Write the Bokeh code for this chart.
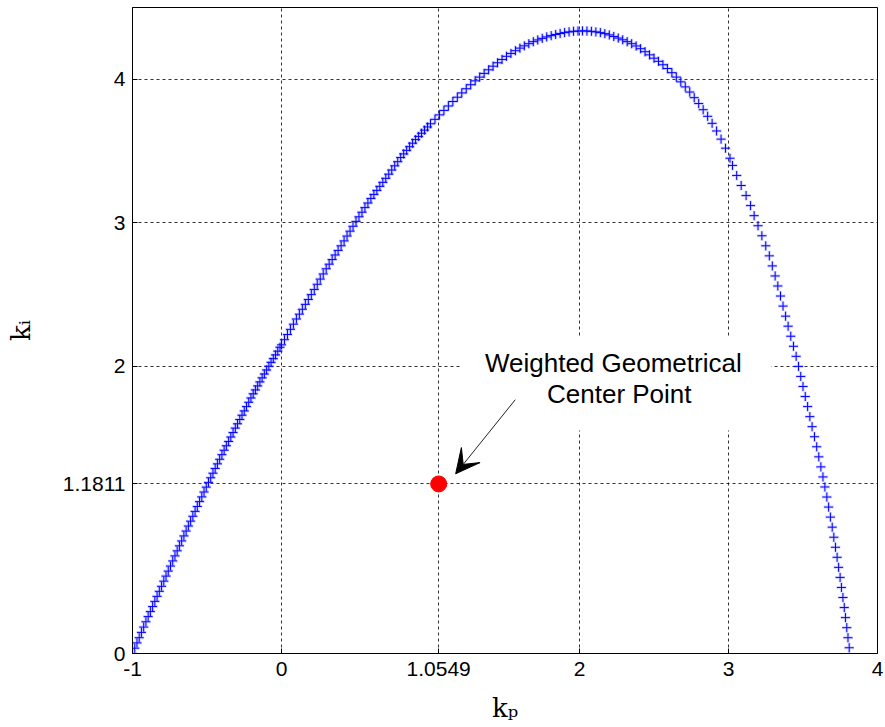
from bokeh.plotting import figure
from bokeh.models import Arrow, VeeHead, BoxAnnotation, FixedTicker, Range1d, Label
from bokeh.embed import file_html
from bokeh.resources import INLINE

# ---- data ----
# rising branch of the stability boundary locus (k_p, k_i)
kp_rise = [-1.000, -0.985, -0.970, -0.955, -0.940, -0.925, -0.910, -0.895, -0.880, -0.865,
           -0.850, -0.835, -0.820, -0.805, -0.790, -0.775, -0.760, -0.745, -0.730, -0.715,
           -0.700, -0.685, -0.670, -0.655, -0.640, -0.625, -0.610, -0.595, -0.580, -0.565,
           -0.550, -0.535, -0.520, -0.505, -0.490, -0.475, -0.460, -0.445, -0.430, -0.415,
           -0.400, -0.385, -0.370, -0.355, -0.340, -0.325, -0.310, -0.295, -0.280, -0.265,
           -0.250, -0.235, -0.220, -0.205, -0.190, -0.175, -0.160, -0.145, -0.130, -0.115,
           -0.100, -0.085, -0.070, -0.055, -0.040, -0.025, -0.010,
           0.00, 0.02, 0.04, 0.06, 0.08, 0.10, 0.12, 0.14, 0.16, 0.18, 0.20, 0.22, 0.24,
           0.26, 0.28, 0.30, 0.32, 0.34, 0.36, 0.38, 0.40, 0.42, 0.44, 0.46, 0.48, 0.50,
           0.52, 0.54, 0.56, 0.58, 0.60, 0.62, 0.64, 0.66, 0.68, 0.70, 0.72, 0.74, 0.76,
           0.78, 0.80, 0.82, 0.84, 0.86, 0.88, 0.90, 0.92, 0.94, 0.96, 0.98, 1.00,
           1.03, 1.06, 1.09, 1.12, 1.15, 1.18, 1.21, 1.24, 1.27, 1.30, 1.33, 1.36, 1.39,
           1.42, 1.45, 1.48, 1.51, 1.54, 1.57, 1.60, 1.63, 1.66, 1.69, 1.72, 1.75, 1.78,
           1.81, 1.84, 1.87, 1.90, 1.93, 1.96, 1.99, 2.02]
ki_rise = [0.000, 0.037, 0.074, 0.110, 0.147, 0.184, 0.221, 0.257, 0.292, 0.327,
           0.363, 0.398, 0.433, 0.468, 0.504, 0.539, 0.574, 0.609, 0.645, 0.680,
           0.715, 0.750, 0.784, 0.819, 0.853, 0.888, 0.922, 0.956, 0.990, 1.024,
           1.058, 1.091, 1.125, 1.159, 1.192, 1.224, 1.256, 1.289, 1.321, 1.353,
           1.385, 1.416, 1.447, 1.477, 1.508, 1.539, 1.570, 1.600, 1.630, 1.660,
           1.690, 1.720, 1.750, 1.780, 1.809, 1.836, 1.864, 1.892, 1.920, 1.947,
           1.975, 2.001, 2.028, 2.054, 2.080, 2.106, 2.133,
           2.150, 2.186, 2.222, 2.258, 2.294, 2.330, 2.364, 2.398, 2.432, 2.466, 2.500,
           2.536, 2.572, 2.608, 2.644, 2.680, 2.712, 2.744, 2.776, 2.808, 2.840, 2.874,
           2.908, 2.942, 2.976, 3.010, 3.042, 3.074, 3.106, 3.138, 3.170, 3.198, 3.226,
           3.254, 3.282, 3.310, 3.339, 3.368, 3.397, 3.426, 3.455, 3.480, 3.505, 3.530,
           3.555, 3.580, 3.602, 3.624, 3.646, 3.668, 3.690,
           3.721, 3.752, 3.783, 3.814, 3.845, 3.875, 3.905, 3.934, 3.962, 3.989, 4.015,
           4.041, 4.066, 4.091, 4.115, 4.138, 4.160, 4.180, 4.199, 4.217, 4.233, 4.248,
           4.262, 4.274, 4.285, 4.295, 4.304, 4.312, 4.319, 4.325, 4.330, 4.334, 4.336,
           4.337]

# falling branch
kp_fall = [2.05, 2.08, 2.11, 2.14, 2.17, 2.20, 2.23, 2.26, 2.29, 2.32, 2.35, 2.38,
           2.41, 2.44, 2.47, 2.50, 2.53, 2.56, 2.59, 2.62, 2.65, 2.68, 2.71, 2.74,
           2.77, 2.80, 2.83, 2.86, 2.89, 2.92, 2.95, 2.98, 3.01,
           3.027, 3.055, 3.085, 3.118, 3.148, 3.172, 3.198, 3.224, 3.250, 3.274,
           3.294, 3.313, 3.331, 3.349, 3.366, 3.383, 3.400, 3.418, 3.436, 3.454,
           3.470, 3.485, 3.500, 3.515, 3.531, 3.546, 3.561, 3.577, 3.592, 3.606,
           3.620, 3.634, 3.647, 3.660, 3.672, 3.684, 3.696, 3.707, 3.718, 3.729,
           3.739, 3.749, 3.758, 3.768, 3.777, 3.785, 3.794, 3.802, 3.810]
ki_fall = [4.336, 4.334, 4.330, 4.325, 4.318, 4.309, 4.298, 4.287, 4.275, 4.262, 4.248, 4.232,
           4.213, 4.192, 4.170, 4.147, 4.125, 4.101, 4.075, 4.046, 4.015, 3.982, 3.947, 3.911,
           3.872, 3.831, 3.788, 3.742, 3.693, 3.640, 3.583, 3.520, 3.450,
           3.40, 3.33, 3.26, 3.19, 3.12, 3.05, 2.98, 2.91, 2.84, 2.77,
           2.70, 2.63, 2.56, 2.49, 2.42, 2.35, 2.28, 2.21, 2.14, 2.07,
           2.00, 1.93, 1.86, 1.79, 1.72, 1.65, 1.58, 1.51, 1.44, 1.37,
           1.30, 1.23, 1.16, 1.09, 1.02, 0.95, 0.88, 0.81, 0.74, 0.67,
           0.60, 0.53, 0.46, 0.39, 0.32, 0.25, 0.18, 0.11, 0.04]

# weighted geometrical center point
center_kp = [1.0549]
center_ki = [1.1811]

x_ticks = [-1, 0, 1.0549, 2, 3, 4]
x_tick_labels = ["-1", "0", "1.0549", "2", "3", "4"]
y_ticks = [0, 1.1811, 2, 3, 4]
y_tick_labels = ["0", "1.1811", "2", "3", "4"]

x_label = "k\u209a"   # k with subscript p
y_label = "k\u1d62"   # k with subscript i
annotation_lines = ["Weighted Geometrical", "Center Point"]

# ---- figure ----
p = figure(frame_width=745, frame_height=646,
           x_range=Range1d(-1, 4), y_range=Range1d(0, 4.5),
           output_backend="svg", toolbar_location=None,
           min_border_left=132, min_border_right=8,
           min_border_top=7, min_border_bottom=74)
p.background_fill_color = "white"
p.border_fill_color = "white"
p.outline_line_color = "black"
p.outline_line_width = 1
p.outline_line_alpha = 1

p.xaxis.ticker = FixedTicker(ticks=x_ticks)
p.yaxis.ticker = FixedTicker(ticks=y_ticks)
p.xgrid.ticker = FixedTicker(ticks=x_ticks)
p.ygrid.ticker = FixedTicker(ticks=y_ticks)
p.xaxis.major_label_overrides = {t: s for t, s in zip(x_ticks, x_tick_labels)}
p.yaxis.major_label_overrides = {t: s for t, s in zip(y_ticks, y_tick_labels)}

for ax in (p.xaxis, p.yaxis):
    ax.axis_line_color = "black"
    ax.major_tick_line_color = "black"
    ax.major_tick_in = 5
    ax.major_tick_out = 0
    ax.minor_tick_line_color = None
    ax.major_label_text_font = "Liberation Sans"
    ax.major_label_text_font_size = "21px"
    ax.major_label_text_color = "black"
    ax.axis_label_text_font = "DejaVu Serif"
    ax.axis_label_text_font_style = "normal"
    ax.axis_label_text_font_size = "26px"
    ax.axis_label_text_color = "black"
p.xaxis.major_label_standoff = 8
p.yaxis.major_label_standoff = 7
p.xaxis.axis_label = x_label
p.yaxis.axis_label = y_label
p.xaxis.axis_label_standoff = 14
p.yaxis.axis_label_standoff = 24

p.grid.grid_line_color = "black"
p.grid.grid_line_dash = "3 3"
p.grid.grid_line_width = 1
p.grid.grid_line_alpha = 0.8

# white box behind annotation text
p.add_layout(BoxAnnotation(left=1.20, right=3.287, top=2.202, bottom=1.554,
                           fill_color="white", fill_alpha=1.0, line_color=None,
                           level="underlay"))

kp_all = kp_rise + kp_fall
ki_all = ki_rise + ki_fall

# soft halo + crisp crosses
p.scatter(kp_all, ki_all, marker="cross", size=10, line_color="#5a5aff",
          line_width=3, line_alpha=0.25)
p.scatter(kp_all, ki_all, marker="cross", size=9, line_color="#0000ff", line_width=1)

p.scatter(center_kp, center_ki, marker="circle", size=16,
          fill_color="#ff0000", line_color="#ff0000")

p.add_layout(Label(x=2.227, y=2.021, text=annotation_lines[0], text_align="center",
                   text_baseline="middle", text_font="Liberation Sans",
                   text_font_size="26px", text_color="black"))
p.add_layout(Label(x=2.267, y=1.805, text=annotation_lines[1], text_align="center",
                   text_baseline="middle", text_font="Liberation Sans",
                   text_font_size="26px", text_color="black"))

p.add_layout(Arrow(end=VeeHead(size=24, fill_color="black", line_color="black"),
                   x_start=1.569, y_start=1.768, x_end=1.169, y_end=1.252,
                   line_color="#222222", line_width=1))

open("out.html", "w").write(file_html(p, INLINE))
